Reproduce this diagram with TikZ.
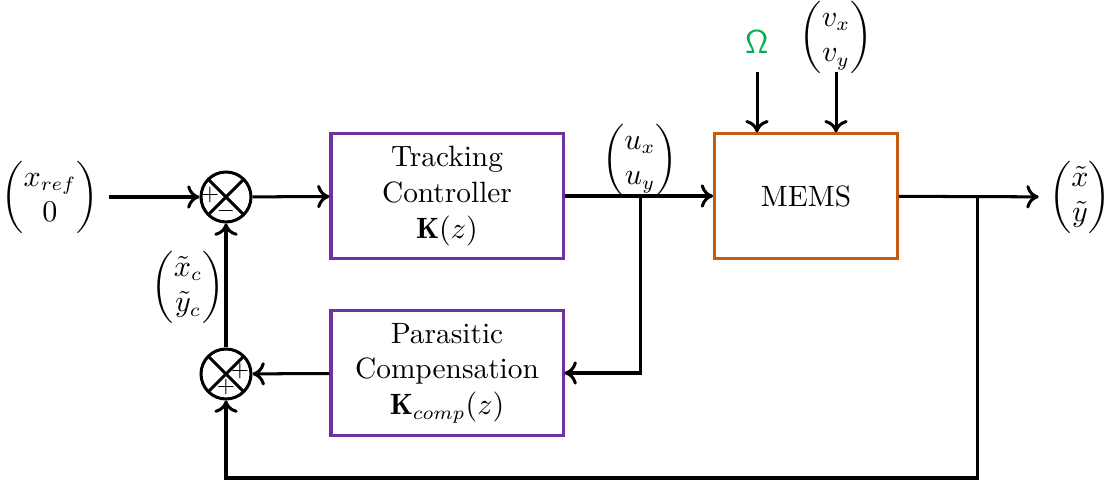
\documentclass[tikz,border=0pt]{standalone}
\usepackage{amsmath}
\usepackage{fontspec}
\usetikzlibrary{positioning,arrows.meta}
\definecolor{blockpurple}{RGB}{112,48,160}
\definecolor{memsorange}{RGB}{197,90,17}
\definecolor{omegagreen}{RGB}{0,176,80}
\tikzset{
	block/.style={draw=blockpurple, line width=1.1pt, minimum width=2.97cm, minimum height=1.59cm, align=center},
	sumnode/.style={draw, circle, minimum size=0.64cm, inner sep=0pt,
		path picture={\draw (path picture bounding box.north west) -- (path picture bounding box.south east)
			(path picture bounding box.north east) -- (path picture bounding box.south west);}},
	sig/.style={font=\footnotesize, inner sep=0pt}
}
\begin{document}
\begin{tikzpicture}[x=0.0128cm, y=-0.0128cm, line width=1.1pt, >={Computer Modern Rightarrow[length=4.5pt,width=8.5pt]},
	font=\fontsize{10.7}{13}\selectfont]
	\useasboundingbox (0,0) rectangle (1108,484);
	\node[sumnode] (sum1) at (226,197) {};
	\node[sumnode] (sum2) at (226,374) {};
	\node[block] (track) at (447,196) {Tracking\\Controller\\$\mathbf{K}(z)$};
	\node[block] (comp) at (447,373) {Parasitic\\Compensation\\$\mathbf{K}_{comp}(z)$};
	\node[block, draw=memsorange, minimum width=2.34cm] (mems) at (806,196) {MEMS};
	\node (ref) at (50,197) {$\begin{pmatrix} x_{ref}\\ 0\end{pmatrix}$};
	\node (out) at (1080,197) {$\begin{pmatrix} \tilde{x}\\ \tilde{y}\end{pmatrix}$};
	\node (ulab) at (640,160) {$\begin{pmatrix} u_x\\ u_y\end{pmatrix}$};
	\node (clab) at (188,287) {$\begin{pmatrix} \tilde{x}_c\\ \tilde{y}_c\end{pmatrix}$};
	\node[text=omegagreen, font=\sffamily\large] (omega) at (757,42) {Ω};
	\node[inner sep=1pt] (vlab) at (836,37) {$\begin{pmatrix} v_x\\ v_y\end{pmatrix}$};
	\node[sig] at (210,195) {$+$};
	\node[sig] at (226,211) {$-$};
	\node[sig] at (240,371) {$+$};
	\node[sig] at (226,387) {$+$};
	\coordinate (usplit) at (640,197);
	\coordinate (ysplit) at (977,197);
	\draw[->] (ref) -- (sum1);
	\draw[->] (sum1) -- (track);
	\draw[->] (track) -- (mems);
	\draw[->] (mems) -- (out);
	\draw[->] (usplit) |- (comp);
	\draw[->] (comp) -- (sum2);
	\draw[->] (sum2) -- (sum1);
	\draw[->] (ysplit) -- (977,478) -| (sum2);
	\draw[->] (757,72) -- (mems.north -| 757,0);
	\draw[->] (836,72) -- (mems.north -| 836,0);
\end{tikzpicture}
\end{document}
